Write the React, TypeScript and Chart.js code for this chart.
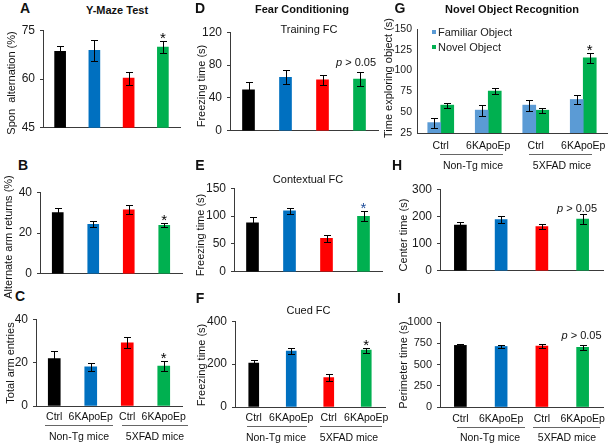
import React, { useEffect, useRef } from 'react';
import { Chart, registerables } from 'chart.js';

Chart.register(...registerables);

const FONT = '"Liberation Sans", Arial, Helvetica, sans-serif';
Chart.defaults.font.family = FONT;

// ---------- data ----------
const groupLabels = ['Ctrl', '6KApoEp', 'Ctrl', '6KApoEp'];
const cohortLabels = ['Non-Tg mice', '5XFAD mice'];
const barColors = ['#000000', '#0070C0', '#FF0000', '#00B050'];

// A: Y-maze spontaneous alternation (%)
const spontAlternation = [68.5, 68.8, 60.3, 69.8];
const spontAlternationErr = [1.7, 3.2, 2.0, 1.8];
const spontAlternationStar = [false, false, false, true];

// B: alternate arm returns (%)
const armReturns = [30.0, 24.3, 31.4, 23.8];
const armReturnsErr = [2.3, 1.5, 2.3, 1.1];
const armReturnsStar = [false, false, false, true];

// C: total arm entries
const armEntries = [21.9, 18.1, 29.1, 18.4];
const armEntriesErr = [3.3, 1.9, 2.5, 2.4];
const armEntriesStar = [false, false, false, true];

// D: training FC freezing time (s)
const trainingFC = [50, 65, 62, 63];
const trainingFCErr = [9, 8.6, 6.4, 8.6];

// E: contextual FC freezing time (s)
const contextualFC = [88, 109.5, 60, 99.5];
const contextualFCErr = [10, 5.5, 6.5, 8.8];
const contextualFCStar = [false, false, false, true];

// F: cued FC freezing time (s)
const cuedFC = [205, 261, 137, 265];
const cuedFCErr = [12, 12, 15, 12];
const cuedFCStar = [false, false, false, true];

// G: novel object recognition, time exploring object (s)
const familiarObject = [37.5, 52.5, 58.5, 65.3];
const familiarObjectErr = [6, 6.5, 6.5, 5.5];
const novelObject = [58.5, 75.3, 52.4, 115.4];
const novelObjectErr = [3, 4, 3, 6];
const novelObjectStar = [false, false, false, true];
const legendLabels = ['Familiar Object', 'Novel Object'];
const objectColors = ['#5B9BD5', '#00B050'];

// H: open field center time (s)
const centerTime = [168, 188, 163, 190];
const centerTimeErr = [10, 13, 8, 17];

// I: open field perimeter time (s)
const perimeterTime = [725, 712, 717, 702];
const perimeterTimeErr = [13, 20, 22, 30];

// ---------- layout constants ----------
const Y_W = 40;
const PAD_TOP = 12;
const PAD_RIGHT = 12;
const PAD_BOTTOM = 6;
const AXIS = '#3a3a3a';

type DS = {
  data: number[];
  colors: string[] | string;
  errors: number[];
  stars?: boolean[];
  starColor?: string;
  label?: string;
};

type PanelCfg = {
  axisX: number;
  top: number;
  bottom: number;
  right: number;
  yMin: number;
  yMax: number;
  step: number;
  barW: number;
  xLabels: boolean;
  xPad?: number;
  tickLen?: number;
  tickSize?: number;
  datasets: DS[];
};

const errorBarPlugin = {
  id: 'errorBars',
  afterDatasetsDraw(chart: any) {
    const ctx = chart.ctx;
    const y = chart.scales.y;
    chart.data.datasets.forEach((ds: any, di: number) => {
      const meta = chart.getDatasetMeta(di);
      const errs: number[] = ds.errors || [];
      const stars: boolean[] = ds.stars || [];
      meta.data.forEach((bar: any, i: number) => {
        const v = ds.data[i];
        const e = errs[i];
        if (e == null) return;
        const xa = Math.round(bar.x) + 0.5;
        const yT = Math.round(y.getPixelForValue(v + e)) + 0.5;
        const yB = Math.round(y.getPixelForValue(v - e)) + 0.5;
        ctx.save();
        ctx.strokeStyle = '#000';
        ctx.lineWidth = 1;
        ctx.beginPath();
        ctx.moveTo(xa, yT);
        ctx.lineTo(xa, yB);
        ctx.moveTo(xa - 3.5, yT);
        ctx.lineTo(xa + 3.5, yT);
        ctx.moveTo(xa - 3.5, yB);
        ctx.lineTo(xa + 3.5, yB);
        ctx.stroke();
        if (stars[i]) {
          ctx.fillStyle = ds.starColor || '#000';
          ctx.font = `15px ${FONT}`;
          ctx.textAlign = 'center';
          ctx.textBaseline = 'alphabetic';
          ctx.fillText('*', bar.x, yT + 1);
        }
        ctx.restore();
      });
    });
  },
};

function BarPanel({ cfg }: { cfg: PanelCfg }) {
  const ref = useRef<HTMLCanvasElement>(null);
  const xH = cfg.xLabels ? 22 : 4;
  const left = cfg.axisX - Y_W;
  const top = cfg.top - PAD_TOP;
  const width = cfg.right - left + PAD_RIGHT;
  const height = cfg.bottom - top + xH + PAD_BOTTOM;
  const tickLen = cfg.tickLen ?? 3;

  useEffect(() => {
    const chart = new Chart(ref.current as HTMLCanvasElement, {
      type: 'bar',
      data: {
        labels: groupLabels,
        datasets: cfg.datasets.map((d) => ({
          label: d.label || '',
          data: d.data,
          backgroundColor: d.colors,
          borderWidth: 0,
          barThickness: cfg.barW,
          errors: d.errors,
          stars: d.stars,
          starColor: d.starColor,
        })) as any,
      },
      options: {
        responsive: false,
        animation: false,
        layout: { padding: { left: 0, top: PAD_TOP, right: PAD_RIGHT, bottom: PAD_BOTTOM } },
        plugins: {
          legend: { display: false },
          tooltip: { enabled: false },
          title: { display: false },
        },
        scales: {
          x: {
            type: 'category',
            offset: true,
            grid: { display: false },
            border: { display: true, color: AXIS, width: 1 },
            ticks: {
              display: cfg.xLabels,
              color: '#111',
              font: { family: FONT, size: 10.5 },
              padding: cfg.xPad ?? -3,
              maxRotation: 0,
              autoSkip: false,
            },
            afterFit: (s: any) => {
              s.height = xH;
            },
          },
          y: {
            min: cfg.yMin,
            max: cfg.yMax,
            grid: {
              display: true,
              drawOnChartArea: false,
              drawTicks: tickLen > 0,
              tickLength: tickLen,
              color: AXIS,
            },
            border: { display: true, color: AXIS, width: 1 },
            ticks: {
              stepSize: cfg.step,
              color: '#1a1a1a',
              font: { family: FONT, size: cfg.tickSize ?? 12 },
              padding: 5,
              callback: (v: any) => String(v),
            },
            afterFit: (s: any) => {
              s.width = Y_W;
            },
          },
        },
      } as any,
      plugins: [errorBarPlugin],
    });
    return () => chart.destroy();
  }, []);

  return (
    <canvas
      ref={ref}
      width={width}
      height={height}
      style={{ position: 'absolute', left, top, width, height }}
    />
  );
}

const panels: PanelCfg[] = [
  { axisX: 43, top: 30, bottom: 130, right: 180, yMin: 45, yMax: 75, step: 15, barW: 11, xLabels: false,
    datasets: [{ data: spontAlternation, colors: barColors, errors: spontAlternationErr, stars: spontAlternationStar }] },
  { axisX: 40, top: 192, bottom: 276, right: 182, yMin: 0, yMax: 40, step: 20, barW: 11, xLabels: false,
    datasets: [{ data: armReturns, colors: barColors, errors: armReturnsErr, stars: armReturnsStar }] },
  { axisX: 36, top: 319, bottom: 406, right: 182, yMin: 0, yMax: 40, step: 20, barW: 12, xLabels: true,
    datasets: [{ data: armEntries, colors: barColors, errors: armEntriesErr, stars: armEntriesStar }] },
  { axisX: 230, top: 32, bottom: 133, right: 378, yMin: 0, yMax: 120, step: 40, barW: 12, xLabels: false,
    datasets: [{ data: trainingFC, colors: barColors, errors: trainingFCErr }] },
  { axisX: 234, top: 188, bottom: 274, right: 382, yMin: 0, yMax: 150, step: 50, barW: 12, xLabels: false,
    datasets: [{ data: contextualFC, colors: barColors, errors: contextualFCErr, stars: contextualFCStar, starColor: '#1F4E9A' }] },
  { axisX: 235, top: 321, bottom: 407, right: 385, yMin: 0, yMax: 400, step: 200, barW: 10, xLabels: true,
    datasets: [{ data: cuedFC, colors: barColors, errors: cuedFCErr, stars: cuedFCStar }] },
  { axisX: 417, top: 29, bottom: 133, right: 607, yMin: 25, yMax: 150, step: 25, barW: 13, xLabels: true, xPad: -1, tickLen: 0, tickSize: 10.5,
    datasets: [
      { label: legendLabels[0], data: familiarObject, colors: objectColors[0], errors: familiarObjectErr },
      { label: legendLabels[1], data: novelObject, colors: objectColors[1], errors: novelObjectErr, stars: novelObjectStar },
    ] },
  { axisX: 440, top: 189, bottom: 273, right: 603, yMin: 0, yMax: 300, step: 100, barW: 12, xLabels: false,
    datasets: [{ data: centerTime, colors: barColors, errors: centerTimeErr }] },
  { axisX: 440, top: 322, bottom: 407, right: 603, yMin: 0, yMax: 1000, step: 250, barW: 12, xLabels: true, xPad: -2, tickSize: 11,
    datasets: [{ data: perimeterTime, colors: barColors, errors: perimeterTimeErr }] },
];

// ---------- text helpers ----------
function T({ x, y, children, size = 11, bold = false, rotate = false, color = '#111' }:
  { x: number; y: number; children: React.ReactNode; size?: number; bold?: boolean; rotate?: boolean; color?: string }) {
  return (
    <div
      style={{
        position: 'absolute',
        left: x,
        top: y,
        transform: `translate(-50%, -50%)${rotate ? ' rotate(-90deg)' : ''}`,
        fontFamily: FONT,
        fontSize: size,
        fontWeight: bold ? 'bold' : 'normal',
        whiteSpace: 'pre',
        lineHeight: 1,
        color,
      }}
    >
      {children}
    </div>
  );
}

function HLine({ x1, x2, y }: { x1: number; x2: number; y: number }) {
  return <div style={{ position: 'absolute', left: x1, top: y, width: x2 - x1, height: 1, background: '#666' }} />;
}

function Cohorts({ lines, y, labelY, centers }: { lines: [number, number][]; y: number; labelY: number; centers: number[] }) {
  return (
    <>
      {lines.map((l, i) => (
        <HLine key={'l' + i} x1={l[0]} x2={l[1]} y={y} />
      ))}
      {cohortLabels.map((c, i) => (
        <T key={'c' + i} x={centers[i]} y={labelY} size={10.5}>
          {c}
        </T>
      ))}
    </>
  );
}

function PValue({ x, y }: { x: number; y: number }) {
  return (
    <T x={x} y={y} size={11}>
      <i>p</i> {'> 0.05'}
    </T>
  );
}

export default function App() {
  useEffect(() => {
    document.body.style.margin = '0';
  }, []);
  return (
    <div style={{ position: 'fixed', left: 0, top: 0, width: 608, height: 445, overflow: 'hidden', background: '#fff' }}>
      {panels.map((p, i) => (
        <BarPanel key={i} cfg={p} />
      ))}

      {/* panel letters */}
      <T x={25} y={8} size={14} bold>A</T>
      <T x={23} y={165} size={14} bold>B</T>
      <T x={20} y={296} size={14} bold>C</T>
      <T x={200} y={8} size={14} bold>D</T>
      <T x={200} y={165} size={14} bold>E</T>
      <T x={200} y={298} size={14} bold>F</T>
      <T x={400} y={8} size={14} bold>G</T>
      <T x={397} y={165} size={14} bold>H</T>
      <T x={399} y={298} size={14} bold>I</T>

      {/* column titles */}
      <T x={117} y={10} size={11} bold>Y-Maze Test</T>
      <T x={302} y={9} size={11} bold>Fear Conditioning</T>
      <T x={512} y={9} size={11} bold>Novel Object Recognition</T>

      {/* sub titles */}
      <T x={309} y={28.5} size={11}>Training FC</T>
      <T x={308} y={179} size={11}>Contextual FC</T>
      <T x={308.5} y={310} size={11}>Cued FC</T>

      {/* p values */}
      <PValue x={356} y={62} />
      <PValue x={577} y={207.5} />
      <PValue x={581.5} y={334.5} />

      {/* y axis titles */}
      <T x={11} y={83} rotate>{'Spon  alternation (%)'}</T>
      <T x={8} y={237} rotate>Alternate arm returns (%)</T>
      <T x={10} y={363} rotate>Total arm entries</T>
      <T x={201} y={86} rotate>Freezing time (s)</T>
      <T x={200} y={235} rotate>Freezing time (s)</T>
      <T x={201} y={365} rotate>Freezing time (s)</T>
      <T x={388} y={78} rotate>Time exploring object (s)</T>
      <T x={403} y={235} rotate>Center time (s)</T>
      <T x={403} y={365} rotate>Perimeter time (s)</T>

      {/* legend G */}
      <div style={{ position: 'absolute', left: 432, top: 30, width: 4, height: 4, background: objectColors[0] }} />
      <div style={{ position: 'absolute', left: 432, top: 45, width: 4, height: 4, background: objectColors[1] }} />
      <div style={{ position: 'absolute', left: 438, top: 26, fontFamily: FONT, fontSize: 11, lineHeight: '12px', color: '#222' }}>{legendLabels[0]}</div>
      <div style={{ position: 'absolute', left: 438, top: 41, fontFamily: FONT, fontSize: 11, lineHeight: '12px', color: '#222' }}>{legendLabels[1]}</div>

      {/* cohort groupings */}
      <Cohorts lines={[[45, 113], [122, 188]]} y={425} labelY={436} centers={[79, 155]} />
      <Cohorts lines={[[247, 307], [320, 382]]} y={426} labelY={437} centers={[276, 349]} />
      <Cohorts lines={[[440, 503], [529, 592]]} y={154} labelY={165} centers={[473, 562]} />
      <Cohorts lines={[[457, 525], [533, 600]]} y={427} labelY={437} centers={[490, 567]} />
    </div>
  );
}
